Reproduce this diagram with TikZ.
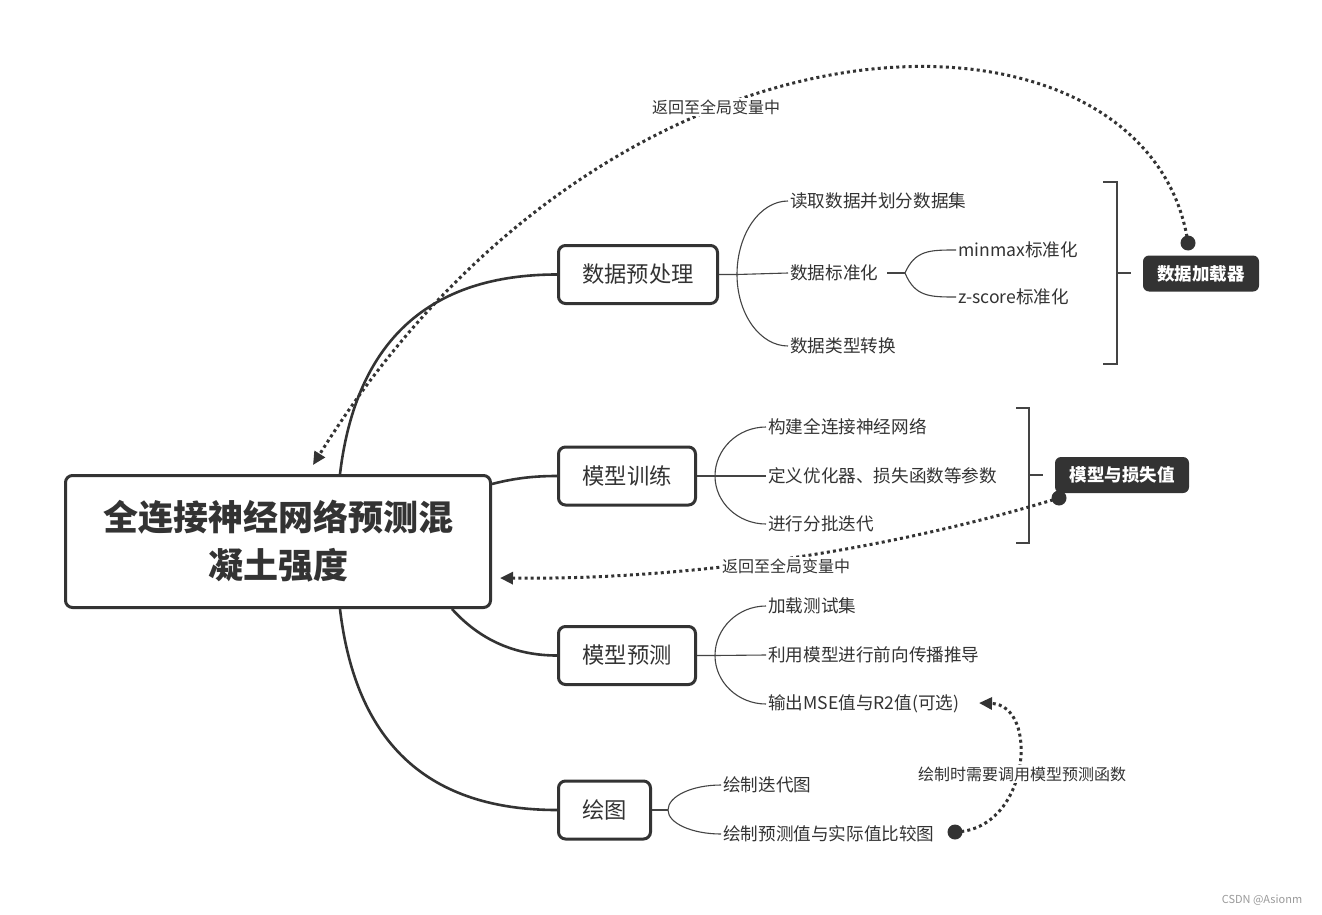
\documentclass[tikz,border=0pt]{standalone}
\usepackage{fontspec}
\setmainfont{Noto Sans CJK SC}
\usetikzlibrary{arrows.meta,calc}
\definecolor{ink}{HTML}{333333}
\definecolor{thinline}{HTML}{444444}
\definecolor{wm}{HTML}{9A9A9A}
\begin{document}
\begin{tikzpicture}[x=1pt,y=-1pt,
  central/.style={draw=ink,line width=3pt,rounded corners=7pt,fill=white,text=ink,
    minimum width=425pt,minimum height=132pt,align=center,
    font=\fontsize{35}{48}\selectfont\bfseries},
  topic/.style={draw=ink,line width=3pt,rounded corners=7pt,fill=white,text=ink,
    minimum height=58pt,font=\fontsize{22.3}{26}\selectfont},
  leaf/.style={anchor=west,text=ink,inner sep=2pt,font=\fontsize{17.6}{20}\selectfont},
  tag/.style={fill=ink,text=white,rounded corners=6pt,minimum height=36pt,
    font=\fontsize{17.5}{20}\selectfont\bfseries},
  mainlink/.style={draw=ink,line width=2.6pt},
  sublink/.style={draw=thinline,line width=1.1pt},
  brace/.style={draw=thinline,line width=2pt},
  relation/.style={draw=ink,line width=3pt,dash pattern=on 3pt off 3.2pt,
    -{Triangle[length=13pt,width=12pt]}},
  reldot/.style={circle,fill=ink,inner sep=0pt,minimum size=15pt},
  rellabel/.style={fill=white,text=ink,inner sep=1.5pt,font=\fontsize{16}{18}\selectfont},
  arcup/.style={},
]
\useasboundingbox[fill=white] (0,0) rectangle (1322,915);

% central and topics
\node[central] (c) at (278,541.5) {全连接神经网络预测混\\凝土强度};
\node[topic,minimum width=159pt] (t1) at (638,274.5) {数据预处理};
\node[topic,minimum width=137pt] (t2) at (627,476) {模型训练};
\node[topic,minimum width=137pt] (t3) at (627,655.5) {模型预测};
\node[topic,minimum width=92pt] (t4) at (604.5,810) {绘图};

% main links
\coordinate (c1) at (340,474);
\coordinate (c2) at (492,484);
\coordinate (c3) at (452,609);
\coordinate (c4) at (340,609);
\draw[mainlink] (c1) .. controls (356,340) and (430,274.5) .. (t1.west);
\draw[mainlink] (c2) .. controls (515,478) and (535,476) .. (t2.west);
\draw[mainlink] (c3) .. controls (480,640) and (515,655.5) .. (t3.west);
\draw[mainlink] (c4) .. controls (356,745) and (430,810) .. (t4.west);

% leaves of topic 1
\node[leaf] (l11) at (788,201) {读取数据并划分数据集};
\node[leaf] (l12) at (788,273) {数据标准化};
\node[leaf] (l13) at (788,346) {数据类型转换};
\node[leaf] (l121) at (956,250) {minmax标准化};
\node[leaf] (l122) at (956,297) {z-score标准化};
\coordinate (b1) at (737,274.5);
\draw[sublink] (t1.east) -- (b1) -- (l12.west);
\draw[sublink] (b1) .. controls ($(b1)!0.55!(b1 |- l11.west)$) and ($(l11.west)!0.55!(b1 |- l11.west)$) .. (l11.west);
\draw[sublink] (b1) .. controls ($(b1)!0.55!(b1 |- l13.west)$) and ($(l13.west)!0.55!(b1 |- l13.west)$) .. (l13.west);
\coordinate (b12a) at (887,273);
\coordinate (b12) at (905,273);
\draw[sublink] (b12a) -- (b12);
\draw[sublink] (b12) .. controls (915,250) and (930,250) .. (l121.west);
\draw[sublink] (b12) .. controls (915,297) and (930,297) .. (l122.west);

% leaves of topic 2
\node[leaf] (l21) at (766,427) {构建全连接神经网络};
\node[leaf] (l22) at (766,476) {定义优化器、损失函数等参数};
\node[leaf] (l23) at (766,524) {进行分批迭代};
\coordinate (b2) at (715,476);
\draw[sublink] (t2.east) -- (b2) -- (l22.west);
\draw[sublink] (b2) .. controls ($(b2)!0.55!(b2 |- l21.west)$) and ($(l21.west)!0.55!(b2 |- l21.west)$) .. (l21.west);
\draw[sublink] (b2) .. controls ($(b2)!0.55!(b2 |- l23.west)$) and ($(l23.west)!0.55!(b2 |- l23.west)$) .. (l23.west);

% leaves of topic 3
\node[leaf] (l31) at (766,606) {加载测试集};
\node[leaf] (l32) at (766,655) {利用模型进行前向传播推导};
\node[leaf] (l33) at (766,704) {输出MSE值与R2值(可选)};
\coordinate (b3) at (715,655.5);
\draw[sublink] (t3.east) -- (b3) -- (l32.west);
\draw[sublink] (b3) .. controls ($(b3)!0.55!(b3 |- l31.west)$) and ($(l31.west)!0.55!(b3 |- l31.west)$) .. (l31.west);
\draw[sublink] (b3) .. controls ($(b3)!0.55!(b3 |- l33.west)$) and ($(l33.west)!0.55!(b3 |- l33.west)$) .. (l33.west);

% leaves of topic 4
\node[leaf] (l41) at (721,785) {绘制迭代图};
\node[leaf] (l42) at (721,834) {绘制预测值与实际值比较图};
\coordinate (b4) at (668,810);
\draw[sublink] (t4.east) -- (b4);
\draw[sublink] (b4) .. controls ($(b4)!0.55!(b4 |- l41.west)$) and ($(l41.west)!0.55!(b4 |- l41.west)$) .. (l41.west);
\draw[sublink] (b4) .. controls ($(b4)!0.55!(b4 |- l42.west)$) and ($(l42.west)!0.55!(b4 |- l42.west)$) .. (l42.west);

% summaries
\draw[brace] (1103,182) -- (1117,182) -- (1117,364) -- (1103,364);
\coordinate (s1) at (1131,273);
\draw[brace] (1117,273) -- (s1);
\node[tag,minimum width=116pt] (g1) at (1201,273.5) {数据加载器};
\draw[brace] (1016,408) -- (1029,408) -- (1029,543) -- (1016,543);
\coordinate (s2) at (1043,475);
\draw[brace] (1029,475) -- (s2);
\node[tag,minimum width=134pt] (g2) at (1122,475) {模型与损失值};

% relations
\node[reldot] (d1) at (1188,243) {};
\coordinate (e1) at (313,465);
\draw[relation] (d1.center) .. controls (1150,-14) and (620,-28) .. (e1);
\node[rellabel] (r1) at (716,107) {返回至全局变量中};

\node[reldot] (d2) at (1059,498) {};
\coordinate (e2) at (500,578);
\draw[relation] (d2.center) .. controls (880,553) and (680,580) .. (e2);
\node[rellabel] (r2) at (786,566) {返回至全局变量中};

\node[reldot] (d3) at (955,832) {};
\coordinate (e3) at (979,703);
\draw[relation] (d3.center) .. controls (1030,830) and (1040,705) .. (e3);
\node[rellabel] (r3) at (1022,774) {绘制时需要调用模型预测函数};

\node[text=wm,font=\fontsize{11}{13}\selectfont] (w) at (1262,900) {CSDN @Asionm};
\end{tikzpicture}
\end{document}
